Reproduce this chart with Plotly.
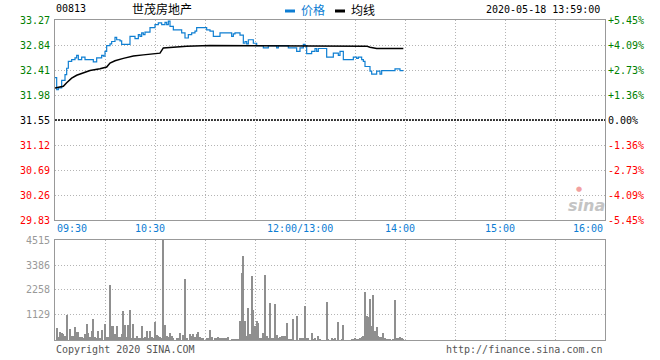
import plotly.graph_objects as go

W, H = 660, 360

stock_code = "00813"
stock_name = "世茂房地产"
timestamp = "2020-05-18 13:59:00"
prev_close = 31.55
legend_price = "价格"
legend_avg = "均线"
copyright_text = "Copyright 2020 SINA.COM"
url_text = "http://finance.sina.com.cn"

price_times = ["09:30", "09:31", "09:32", "09:34", "09:36", "09:37", "09:38", "09:40", "09:42", "09:43",
               "09:44", "09:46", "09:48", "09:53", "09:55", "09:58", "09:59", "10:00", "10:01", "10:03",
               "10:04", "10:06", "10:07", "10:09", "10:10", "10:15", "10:18", "10:20", "10:21", "10:22",
               "10:23", "10:24", "10:27", "10:30", "10:32", "10:34", "10:36", "10:37", "10:38", "10:39",
               "10:41", "10:46", "10:48", "10:50", "10:52", "10:54", "10:55", "11:01", "11:03", "11:05",
               "11:09", "11:16", "11:17", "11:18", "11:21", "11:23", "11:24", "11:25", "11:26", "11:29",
               "11:31", "11:35", "11:38", "11:43", "11:44", "11:50", "11:55", "11:57", "11:59", "13:00",
               "13:01", "13:04", "13:06", "13:07", "13:08", "13:13", "13:17", "13:20", "13:21", "13:23",
               "13:29", "13:31", "13:32", "13:34", "13:35", "13:36", "13:39", "13:40", "13:43", "13:45",
               "13:46", "13:54", "13:57", "13:59"]
price_values = [32.28, 32.07, 32.10, 32.23, 32.33, 32.44, 32.56, 32.59, 32.62, 32.66,
                32.59, 32.63, 32.59, 32.55, 32.62, 32.66, 32.65, 32.73, 32.83, 32.86,
                32.90, 32.97, 32.93, 32.91, 32.85, 32.99, 32.95, 33.02, 32.99, 33.05,
                33.02, 33.06, 33.14, 33.19, 33.22, 33.19, 33.23, 33.19, 33.25, 33.16,
                33.10, 33.05, 32.96, 33.02, 33.05, 33.08, 33.14, 33.10, 33.08, 32.99,
                33.05, 32.99, 33.03, 33.05, 33.01, 32.87, 32.90, 32.86, 32.93, 32.87,
                32.83, 32.79, 32.83, 32.79, 32.83, 32.79, 32.73, 32.79, 32.85, 32.83,
                32.69, 32.73, 32.78, 32.73, 32.78, 32.63, 32.70, 32.66, 32.73, 32.59,
                32.63, 32.61, 32.63, 32.59, 32.56, 32.47, 32.39, 32.34, 32.39, 32.34,
                32.40, 32.43, 32.40, 32.40]

avg_times = ["09:30", "09:35", "09:37", "09:40", "09:43", "09:47", "09:51", "09:57", "10:01", "10:03",
             "10:06", "10:11", "10:17", "10:23", "10:30", "10:33", "10:35", "10:41", "10:49", "11:03",
             "13:22", "13:23", "13:37", "13:39", "13:43", "13:59"]
avg_values = [32.10, 32.13, 32.19, 32.27, 32.32, 32.36, 32.40, 32.43, 32.46, 32.53,
              32.57, 32.61, 32.65, 32.67, 32.69, 32.70, 32.79, 32.80, 32.82, 32.83,
              32.83, 32.82, 32.82, 32.80, 32.78, 32.78]

vol_times = ["09:31", "09:32", "09:33", "09:34", "09:35", "09:36", "09:37", "09:39", "09:40", "09:41",
             "09:42", "09:43", "09:44", "09:45", "09:46", "09:47", "09:48", "09:49", "09:50", "09:51",
             "09:52", "09:53", "09:54", "09:55", "09:56", "09:57", "09:58", "10:00", "10:01", "10:02",
             "10:03", "10:04", "10:05", "10:06", "10:07", "10:08", "10:09", "10:10", "10:11", "10:12",
             "10:13", "10:14", "10:15", "10:16", "10:17", "10:18", "10:19", "10:20", "10:21", "10:22",
             "10:23", "10:24", "10:25", "10:26", "10:27", "10:28", "10:29", "10:30", "10:31", "10:32",
             "10:33", "10:34", "10:35", "10:36", "10:37", "10:38", "10:39", "10:40", "10:41", "10:43",
             "10:44", "10:45", "10:47", "10:48", "10:49", "10:51", "10:52", "10:53", "10:54", "10:55",
             "10:56", "10:57", "10:58", "10:59", "11:01", "11:02", "11:03", "11:04", "11:06", "11:07",
             "11:08", "11:09", "11:10", "11:11", "11:12", "11:13", "11:14", "11:16", "11:17", "11:18",
             "11:19", "11:20", "11:21", "11:22", "11:23", "11:24", "11:25", "11:26", "11:27", "11:28",
             "11:29", "11:30", "11:31", "11:32", "11:33", "11:34", "11:35", "11:36", "11:37", "11:38",
             "11:39", "11:40", "11:41", "11:42", "11:43", "11:44", "11:45", "11:46", "11:47", "11:48",
             "11:49", "11:50", "11:51", "11:52", "11:53", "11:55", "11:57", "11:58", "11:59", "12:00",
             "13:01", "13:02", "13:04", "13:05", "13:06", "13:08", "13:09", "13:13", "13:14", "13:16",
             "13:17", "13:18", "13:20", "13:22", "13:23", "13:28", "13:29", "13:30", "13:31", "13:32",
             "13:33", "13:34", "13:35", "13:36", "13:37", "13:38", "13:39", "13:40", "13:41", "13:42",
             "13:43", "13:44", "13:45", "13:46", "13:47", "13:48", "13:49", "13:50", "13:51", "13:53",
             "13:54", "13:55", "13:56", "13:57", "13:58", "13:59"]
vol_values = [527, 150, 346, 301, 256, 181, 1120, 497, 181, 181,
              587, 361, 361, 150, 120, 75, 286, 722, 331, 120,
              421, 948, 150, 75, 421, 60, 466, 707, 120, 120,
              2483, 632, 632, 271, 632, 150, 120, 271, 1309, 677,
              120, 677, 1354, 105, 723, 60, 181, 105, 60, 632,
              105, 150, 421, 75, 421, 150, 90, 828, 226, 181,
              120, 75, 4515, 677, 181, 120, 301, 181, 75, 75,
              75, 301, 226, 2754, 75, 271, 181, 271, 120, 271,
              361, 120, 75, 75, 75, 75, 451, 120, 75, 75,
              120, 105, 105, 105, 105, 105, 120, 45, 45, 45,
              45, 45, 858, 3040, 3793, 858, 181, 1430, 271, 2890,
              1354, 632, 858, 783, 75, 75, 301, 2935, 181, 75,
              1686, 75, 75, 1625, 226, 105, 120, 181, 181, 181,
              783, 45, 45, 45, 948, 1084, 105, 75, 75, 1535,
              75, 75, 301, 45, 75, 181, 45, 1730, 45, 75,
              45, 105, 828, 45, 677, 45, 45, 75, 45, 45,
              75, 120, 181, 2182, 1084, 1023, 1851, 632, 2032, 421,
              572, 181, 150, 120, 301, 75, 45, 45, 45, 45,
              1806, 75, 105, 150, 105, 45]

price_ticks = [33.27, 32.84, 32.41, 31.98, 31.55, 31.12, 30.69, 30.26, 29.83]
pct_labels = ["+5.45%", "+4.09%", "+2.73%", "+1.36%", "0.00%", "-1.36%", "-2.73%", "-4.09%", "-5.45%"]
vol_ticks = [4515, 3386, 2258, 1129]
grid_times = ["09:30", "10:00", "10:30", "11:00", "11:30", "12:00", "13:30", "14:00", "14:30",
              "15:00", "15:30", "16:00"]
time_label_times = ["09:30", "10:30", "12:00", "14:00", "15:00", "16:00"]
time_labels = ["09:30", "10:30", "12:00/13:00", "14:00", "15:00", "16:00"]


def pos(t):
    h, m = map(int, t.split(":"))
    mins = h * 60 + m
    if mins >= 13 * 60:
        return 150 + mins - 13 * 60
    return mins - (9 * 60 + 30)


def px(x):
    return x / W


def py(y):
    return 1 - y / H


MONO = "DejaVu Sans Mono"
CJK = "Noto Sans CJK SC"
GREEN = "#008000"
RED = "#ff0000"
BLUE = "#0d7dd3"
GRAY_TXT = "#999999"
BORDER = "#999999"
GRID = "#b4b4b4"

fig = go.Figure()
fig.add_trace(go.Scatter(x=[pos(t) for t in price_times], y=price_values, mode="lines",
                         line=dict(color="#0f7fd2", width=1.2, shape="hv"),
                         xaxis="x", yaxis="y", hoverinfo="skip"))
fig.add_trace(go.Scatter(x=[pos(t) for t in avg_times], y=avg_values, mode="lines",
                         line=dict(color="#000000", width=1.5),
                         xaxis="x", yaxis="y", hoverinfo="skip"))
fig.add_trace(go.Bar(x=[pos(t) for t in vol_times], y=vol_values, width=0.5,
                     marker=dict(color="#8f8f8f", line=dict(width=0)),
                     xaxis="x2", yaxis="y2", hoverinfo="skip"))

xdom = [px(55), px(605)]
common_x = dict(domain=xdom, range=[0, 330], tickvals=[pos(t) for t in grid_times],
                showticklabels=False, showgrid=True, gridcolor=GRID, gridwidth=1,
                griddash="1px,2px", showline=True, linecolor=BORDER, linewidth=1, mirror=True,
                zeroline=False, ticks="", fixedrange=True)
common_y = dict(showticklabels=False, showgrid=True, gridcolor=GRID, gridwidth=1,
                griddash="1px,2px", showline=True, linecolor=BORDER, linewidth=1, mirror=True,
                zeroline=False, ticks="", fixedrange=True)

fig.update_layout(
    width=W, height=H,
    margin=dict(l=0, r=0, t=0, b=0),
    paper_bgcolor="white", plot_bgcolor="white",
    showlegend=False, bargap=0, hovermode=False,
    xaxis=dict(anchor="y", **common_x),
    yaxis=dict(anchor="x", domain=[py(220), py(20)], range=[price_ticks[-1], price_ticks[0]],
               tickvals=price_ticks, **common_y),
    xaxis2=dict(anchor="y2", **common_x),
    yaxis2=dict(anchor="x2", domain=[py(340), py(240)], range=[0, vol_ticks[0]],
                tickvals=vol_ticks + [0], **common_y),
)

fig.add_shape(type="line", xref="x domain", yref="y", x0=0, x1=1, y0=prev_close, y1=prev_close,
              line=dict(color="#000000", width=1.3, dash="2px,1px"))

ann = []
for v, p in zip(price_ticks, pct_labels):
    if v > prev_close:
        c = GREEN
    elif v < prev_close:
        c = RED
    else:
        c = "#000000"
    ann.append(dict(x=px(52), y=v, xref="paper", yref="y", text=f"{v:.2f}", showarrow=False,
                    xanchor="right", yanchor="middle", font=dict(family=MONO, size=10, color=c)))
    ann.append(dict(x=px(606), y=v, xref="paper", yref="y", text=p, showarrow=False,
                    xanchor="left", yanchor="middle", font=dict(family=MONO, size=10, color=c)))
for v in vol_ticks:
    ann.append(dict(x=px(52), y=v, xref="paper", yref="y2", text=str(v), showarrow=False,
                    xanchor="right", yanchor="middle", font=dict(family=MONO, size=10, color=GRAY_TXT)))
for i, (t, lab) in enumerate(zip(time_label_times, time_labels)):
    if i == 0:
        xa, xs = "left", 0
    elif i == len(time_labels) - 1:
        xa, xs = "right", 0
    else:
        xa, xs = "center", -5
    ann.append(dict(x=pos(t), y=py(228), xref="x", yref="paper", text=lab, showarrow=False,
                    xanchor=xa, yanchor="middle", xshift=xs,
                    font=dict(family=MONO, size=10, color=BLUE)))
ann.append(dict(x=px(54), y=py(8), xref="paper", yref="paper", text=stock_code, showarrow=False,
                xanchor="left", yanchor="middle", font=dict(family=MONO, size=10, color="#000000")))
ann.append(dict(x=px(130), y=py(8), xref="paper", yref="paper", text=stock_name, showarrow=False,
                xanchor="left", yanchor="middle", font=dict(family=CJK, size=12, color="#000000")))
ann.append(dict(x=px(299), y=py(9), xref="paper", yref="paper", text=legend_price, showarrow=False,
                xanchor="left", yanchor="middle", font=dict(family=CJK, size=12, color=BLUE)))
ann.append(dict(x=px(349), y=py(9), xref="paper", yref="paper", text=legend_avg, showarrow=False,
                xanchor="left", yanchor="middle", font=dict(family=CJK, size=12, color="#000000")))
ann.append(dict(x=px(602), y=py(9), xref="paper", yref="paper", text=timestamp, showarrow=False,
                xanchor="right", yanchor="middle", font=dict(family=MONO, size=10, color="#000000")))
ann.append(dict(x=px(54), y=py(349), xref="paper", yref="paper", text=copyright_text, showarrow=False,
                xanchor="left", yanchor="middle", font=dict(family=MONO, size=10, color="#555555")))
ann.append(dict(x=px(605), y=py(349), xref="paper", yref="paper", text=url_text, showarrow=False,
                xanchor="right", yanchor="middle", font=dict(family=MONO, size=10, color="#555555")))
ann.append(dict(x=px(586), y=py(205), xref="paper", yref="paper", text="<b><i>sina</i></b>", showarrow=False,
                xanchor="center", yanchor="middle", font=dict(family="DejaVu Sans", size=16, color="#c4c4c4")))
ann.append(dict(x=px(579), y=py(189), xref="paper", yref="paper", text="●", showarrow=False,
                xanchor="center", yanchor="middle", font=dict(family="DejaVu Sans", size=7, color="#f2a0a0")))
fig.update_layout(annotations=ann)

fig.add_shape(type="line", xref="paper", yref="paper", x0=px(285), x1=px(295), y0=py(11), y1=py(11),
              line=dict(color=BLUE, width=3))
fig.add_shape(type="line", xref="paper", yref="paper", x0=px(335), x1=px(345), y0=py(11), y1=py(11),
              line=dict(color="#000000", width=3))

fig.write_html("out.html", config={"displayModeBar": False},
               post_script="document.body.style.margin='0';document.body.style.overflow='hidden';")
